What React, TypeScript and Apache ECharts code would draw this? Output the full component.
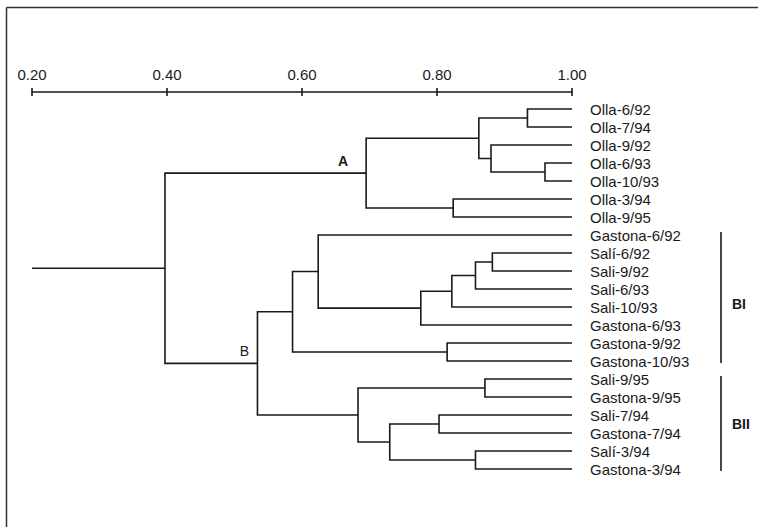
import React, { useEffect, useRef } from "react";
import * as echarts from "echarts";

// ---- data ----
const leaves: string[] = [
  "Olla-6/92",
  "Olla-7/94",
  "Olla-9/92",
  "Olla-6/93",
  "Olla-10/93",
  "Olla-3/94",
  "Olla-9/95",
  "Gastona-6/92",
  "Salí-6/92",
  "Sali-9/92",
  "Sali-6/93",
  "Sali-10/93",
  "Gastona-6/93",
  "Gastona-9/92",
  "Gastona-10/93",
  "Sali-9/95",
  "Gastona-9/95",
  "Sali-7/94",
  "Gastona-7/94",
  "Salí-3/94",
  "Gastona-3/94",
];

// merges: [childA, childB, similarity]; node ids continue after the leaves (21, 22, ...)
const merges: [number, number, number][] = [
  [0, 1, 0.934], // 21
  [3, 4, 0.96], // 22
  [2, 22, 0.88], // 23
  [21, 23, 0.862], // 24
  [5, 6, 0.824], // 25
  [24, 25, 0.695], // 26  A
  [8, 9, 0.882], // 27
  [27, 10, 0.857], // 28
  [28, 11, 0.822], // 29
  [29, 12, 0.776], // 30
  [7, 30, 0.624], // 31
  [13, 14, 0.815], // 32
  [31, 32, 0.586], // 33  BI
  [15, 16, 0.871], // 34
  [17, 18, 0.803], // 35
  [19, 20, 0.857], // 36
  [35, 36, 0.73], // 37
  [34, 37, 0.683], // 38  BII
  [33, 38, 0.534], // 39  B
  [26, 39, 0.397], // 40  root
];

const leafLevel = 1.0;
const rootStart = 0.2;
const axisMin = 0.2;
const axisMax = 1.0;
const axisStep = 0.2;
const tickLabels = ["0.20", "0.40", "0.60", "0.80", "1.00"];

const nodeLabels: { node: number; text: string; bold: boolean }[] = [
  { node: 26, text: "A", bold: true },
  { node: 39, text: "B", bold: false },
];

const groups: { name: string; from: number; to: number }[] = [
  { name: "BI", from: 7, to: 14 },
  { name: "BII", from: 15, to: 20 },
];

// ---- styling ----
const INK = "#1a1a1a";
const FONT = "'Liberation Sans', Arial, sans-serif";
const LW = 1.6;

function layoutTree() {
  const h: number[] = leaves.map(() => leafLevel);
  const y: number[] = leaves.map((_, i) => i);
  merges.forEach(([a, b, s]) => {
    h.push(s);
    y.push((y[a] + y[b]) / 2);
  });
  return { h, y };
}

export default function App() {
  const ref = useRef<HTMLDivElement>(null);

  useEffect(() => {
    if (!ref.current) return;
    const chart = echarts.init(ref.current, undefined, { renderer: "svg" });
    const { h, y } = layoutTree();
    const n = leaves.length;
    const rootId = n + merges.length - 1;

    const treeData: number[][] = merges.map(([a, b, s]) => [h[a], y[a], s, y[b], h[b]]);
    treeData.push([rootStart, y[rootId], h[rootId], y[rootId], h[rootId]]);

    const labelData = nodeLabels.map((l) => [h[l.node], y[l.node]]);
    const groupData = groups.map((g) => [g.from, g.to]);

    const option: any = {
      animation: false,
      backgroundColor: "#fff",
      textStyle: { fontFamily: FONT },
      grid: { left: 32, right: 186, top: 100, height: 378 },
      xAxis: [
        {
          type: "value",
          position: "top",
          offset: 8,
          min: axisMin,
          max: axisMax,
          interval: axisStep,
          splitLine: { show: false },
          axisLine: { show: true, onZero: false, lineStyle: { color: INK, width: LW } },
          axisTick: { show: true, length: 4, lineStyle: { color: INK, width: LW } },
          axisLabel: {
            show: true,
            color: INK,
            fontSize: 15,
            fontFamily: FONT,
            margin: 10,
            formatter: (v: number) => {
              const i = Math.round((v - axisMin) / axisStep);
              return tickLabels[i] ?? "";
            },
          },
        },
        {
          type: "value",
          position: "top",
          offset: 8,
          min: axisMin,
          max: axisMax,
          interval: axisStep,
          splitLine: { show: false },
          axisLine: { show: false, onZero: false },
          axisTick: { show: true, inside: true, length: 4, lineStyle: { color: INK, width: LW } },
          axisLabel: { show: false },
        },
      ],
      yAxis: [
        {
          type: "value",
          min: -0.5,
          max: n - 0.5,
          inverse: true,
          show: false,
        },
        {
          type: "category",
          data: leaves,
          inverse: true,
          position: "right",
          boundaryGap: true,
          axisLine: { show: false },
          axisTick: { show: false },
          splitLine: { show: false },
          axisLabel: { color: INK, fontSize: 15, fontFamily: FONT, margin: 18, interval: 0 },
        },
      ],
      series: [
        {
          type: "custom",
          xAxisIndex: 0,
          yAxisIndex: 0,
          silent: true,
          data: treeData,
          renderItem: (_p: any, api: any) => {
            const p0 = api.coord([api.value(0), api.value(1)]);
            const p1 = api.coord([api.value(2), api.value(1)]);
            const p2 = api.coord([api.value(2), api.value(3)]);
            const p3 = api.coord([api.value(4), api.value(3)]);
            return {
              type: "polyline",
              shape: { points: [p0, p1, p2, p3] },
              style: { stroke: INK, lineWidth: LW, fill: null },
            };
          },
        },
        {
          type: "custom",
          xAxisIndex: 0,
          yAxisIndex: 0,
          silent: true,
          data: labelData,
          renderItem: (p: any, api: any) => {
            const c = api.coord([api.value(0), api.value(1)]);
            const l = nodeLabels[p.dataIndex];
            const dx = l.bold ? -23 : -13;
            const dy = -12.5;
            return {
              type: "text",
              style: {
                text: l.text,
                x: c[0] + dx,
                y: c[1] + dy,
                align: "center",
                verticalAlign: "middle",
                fill: INK,
                font: `${l.bold ? "bold " : ""}14px ${FONT}`,
              },
            };
          },
        },
        {
          type: "custom",
          xAxisIndex: 0,
          yAxisIndex: 0,
          silent: true,
          data: groupData,
          renderItem: (p: any, api: any) => {
            const g = groups[p.dataIndex];
            const xr = api.coord([axisMax, 0])[0] + 149;
            const y0 = api.coord([axisMax, api.value(0)])[1] - 3;
            const y1 = api.coord([axisMax, api.value(1)])[1] + 2;
            const dy = p.dataIndex === 0 ? 6 : 0;
            return {
              type: "group",
              children: [
                {
                  type: "line",
                  shape: { x1: xr, y1: y0, x2: xr, y2: y1 },
                  style: { stroke: INK, lineWidth: LW },
                },
                {
                  type: "text",
                  style: {
                    text: g.name,
                    x: xr + 11,
                    y: (y0 + y1) / 2 + dy,
                    align: "left",
                    verticalAlign: "middle",
                    fill: INK,
                    font: `bold 14px ${FONT}`,
                  },
                },
              ],
            };
          },
        },
      ],
      graphic: [
        {
          type: "line",
          silent: true,
          shape: { x1: 6.5, y1: 7.5, x2: 758, y2: 7.5 },
          style: { stroke: "#333", lineWidth: 1.5 },
        },
        {
          type: "line",
          silent: true,
          shape: { x1: 6.5, y1: 7.5, x2: 6.5, y2: 527 },
          style: { stroke: "#333", lineWidth: 1.5 },
        },
      ],
    };

    chart.setOption(option);
    return () => chart.dispose();
  }, []);

  return (
    <div
      ref={ref}
      style={{ position: "fixed", left: 0, top: 0, width: 758, height: 527, background: "#fff" }}
    />
  );
}
